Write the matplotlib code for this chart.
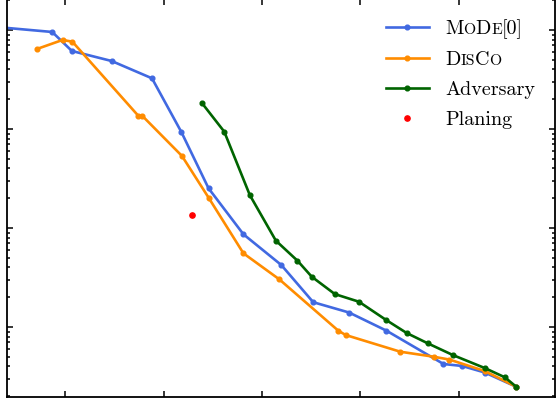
import matplotlib
matplotlib.use("Agg")
import matplotlib.pyplot as plt
from matplotlib.ticker import LogLocator, NullLocator, NullFormatter

plt.rcParams['font.family'] = ['cmr10', 'DejaVu Serif']
plt.rcParams['axes.formatter.use_mathtext'] = True

# values (x linear, y log)
mode_x = [0.067, 0.173, 0.213, 0.294, 0.376, 0.436, 0.491, 0.562, 0.639, 0.704,
          0.777, 0.853, 0.969, 1.007, 1.053, 1.117]
mode_y = [10640, 9550, 6140, 4860, 3250, 927, 252, 86.4, 42.3, 17.8,
          14.0, 9.18, 4.23, 4.04, 3.47, 2.49]

disco_x = [0.142, 0.194, 0.214, 0.348, 0.356, 0.437, 0.491, 0.562, 0.635, 0.755,
           0.770, 0.881, 0.949, 0.981, 1.053, 1.117]
disco_y = [6430, 7930, 7620, 1362, 1362, 534, 203, 55.5, 30.3, 9.18,
           8.30, 5.63, 5.01, 4.69, 3.59, 2.49]

adv_x = [0.477, 0.523, 0.575, 0.628, 0.672, 0.701, 0.748, 0.797, 0.852, 0.894,
         0.937, 0.988, 1.054, 1.094, 1.117]
adv_y = [1845, 940, 215, 74.5, 46.7, 32.2, 21.5, 18.0, 11.8, 8.70,
         6.84, 5.21, 3.83, 3.10, 2.49]

plan_x = [0.457]
plan_y = [135]

xticks = [0.2, 0.4, 0.6, 0.8, 1.0]

fig = plt.figure(figsize=(5.57, 3.98), dpi=100)
ax = fig.add_axes([0.012, 0.0025, 0.985, 1.0])

ax.plot(mode_x, mode_y, color='royalblue', lw=1.9, marker='o', ms=3.4, label='MoDe[0]')
ax.plot(disco_x, disco_y, color='darkorange', lw=1.9, marker='o', ms=3.4, label='DisCo')
ax.plot(adv_x, adv_y, color='darkgreen', lw=1.9, marker='o', ms=3.4, label='Adversary')
ax.plot(plan_x, plan_y, ls='none', color='red', marker='o', ms=3.8, label='Planing')

ax.set_yscale('log')
ax.set_xlim(0.0804, 1.1965)
ax.set_ylim(1.963, 20560)
ax.set_xticks(xticks)
ax.xaxis.set_minor_locator(NullLocator())
ax.yaxis.set_major_locator(LogLocator(base=10))
ax.yaxis.set_minor_locator(LogLocator(base=10, subs=range(2, 10)))
ax.yaxis.set_minor_formatter(NullFormatter())
ax.tick_params(which='both', direction='in', top=True, right=True,
               labelbottom=False, labelleft=False, width=1.1)
ax.tick_params(which='major', length=4.3)
ax.tick_params(which='minor', length=2.4)
for s in ax.spines.values():
    s.set_linewidth(1.3)

fs = 14.5
leg = ax.legend(loc='upper right', frameon=False, fontsize=fs,
                numpoints=1, handlelength=2.15, labelspacing=0.6,
                borderaxespad=0.6)

# fake small caps for the first two labels
fig.canvas.draw()
r = fig.canvas.get_renderer()
small = fs * 0.78
pieces = {
    'MoDe[0]': [('M', fs), ('O', small), ('D', fs), ('E', small), ('[0]', fs)],
    'DisCo': [('D', fs), ('IS', small), ('C', fs), ('O', small)],
}
for t in leg.get_texts():
    lab = t.get_text()
    if lab not in pieces:
        continue
    bb = t.get_window_extent(r)
    prop = t.get_fontproperties()
    _, _, d1 = r.get_text_width_height_descent(lab, prop, ismath=False)
    _, _, d2 = r.get_text_width_height_descent('lp', prop, ismath=False)
    base = bb.y0 + max(d1, d2)
    x = bb.x0
    t.set_visible(False)
    for s, size in pieces[lab]:
        tt = fig.text(x, base, s, fontsize=size, transform=None,
                      ha='left', va='baseline')
        w, _, _ = r.get_text_width_height_descent(s, tt.get_fontproperties(), ismath=False)
        x += w

fig.savefig('out.png', dpi=100)
